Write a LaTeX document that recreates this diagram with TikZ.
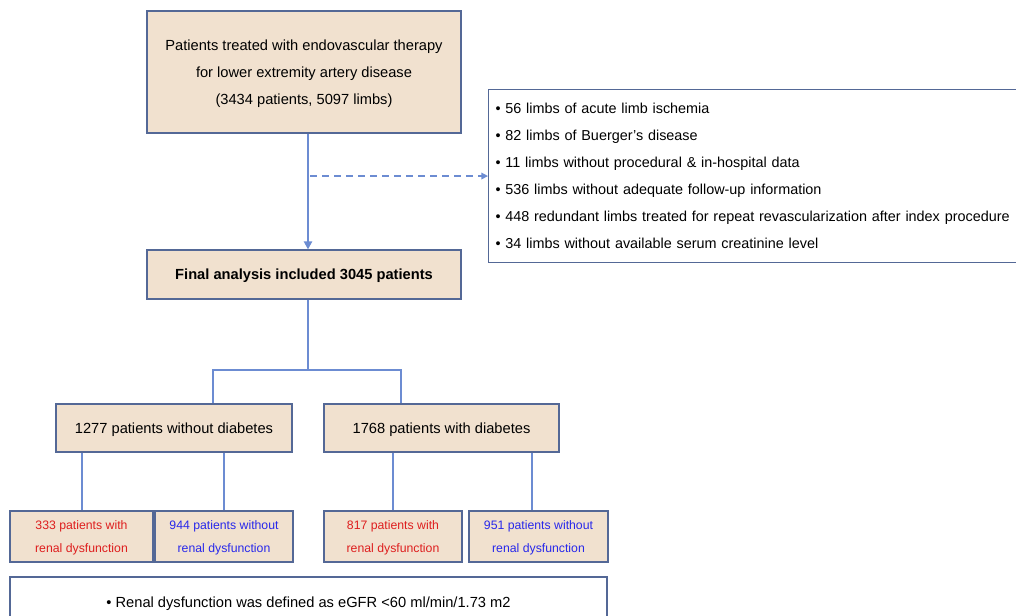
\documentclass[tikz,border=0pt]{standalone}
\usepackage{fontspec}
\setmainfont{Liberation Sans}
\usetikzlibrary{arrows.meta}

\definecolor{boxfill}{RGB}{241,225,207}
\definecolor{boxline}{RGB}{84,104,150}
\definecolor{linkblue}{RGB}{108,140,210}
\definecolor{rdred}{RGB}{222,30,30}
\definecolor{nrdblue}{RGB}{40,40,235}

\tikzset{
  box/.style={draw=boxline, fill=boxfill, line width=0.8pt, rectangle, inner sep=0pt, align=center,
    text depth=0pt, font=\fontsize{11}{20.25}\selectfont},
  smallbox/.style={box, font=\fontsize{9.2}{17}\selectfont},
  notebox/.style={draw=boxline, line width=0.8pt, rectangle, inner sep=0pt, align=center,
    font=\fontsize{11}{20.25}\selectfont},
  link/.style={draw=linkblue, line width=1.5pt},
  linkarr/.style={link, -{Triangle[length=6pt,width=6pt]}},
  dasharr/.style={draw=linkblue, line width=1pt, dash pattern=on 5pt off 4pt, -{Triangle[length=5pt,width=5pt]}}
}

\begin{document}
\begin{tikzpicture}[x=0.75pt,y=0.75pt,yscale=-1]
\useasboundingbox (0,0) rectangle (1016,616);

%Shape: Rectangle [top]
\node [box, minimum width=314*0.75pt, minimum height=122*0.75pt] (top) at (304,72)
  {Patients treated with endovascular therapy\\ for lower extremity artery disease\\ (3434 patients, 5097 limbs)};
%Shape: Rectangle [excluded]
\node [notebox, anchor=north west, minimum width=542*0.75pt, minimum height=173*0.75pt, align=left,
  text width=528*0.75pt, font=\fontsize{10.8}{20.25}\selectfont] (excl) at (488,89)
  {• 56 limbs of acute limb ischemia\\
   • 82 limbs of Buerger’s disease\\
   • 11 limbs without procedural \& in-hospital data\\
   • 536 limbs without adequate follow-up information\\
   • 448 redundant limbs treated for repeat revascularization after index procedure\\
   • 34 limbs without available serum creatinine level};
%Shape: Rectangle [final]
\node [box, minimum width=314*0.75pt, minimum height=49*0.75pt, font=\fontsize{11}{20.25}\selectfont\bfseries] (final) at (304,274.5)
  {Final analysis included 3045 patients};
%Shape: Rectangle [diabetes groups]
\node [box, minimum width=236*0.75pt, minimum height=48*0.75pt] (nodm) at (174,428) {1277 patients without diabetes};
\node [box, minimum width=235*0.75pt, minimum height=48*0.75pt] (dm) at (441.5,428) {1768 patients with diabetes};
%Shape: Rectangle [renal groups]
\node [smallbox, text=rdred, minimum width=143*0.75pt, minimum height=51*0.75pt] (nodmrd) at (81.5,536.5) {333 patients with\\ renal dysfunction};
\node [smallbox, text=nrdblue, minimum width=138*0.75pt, minimum height=51*0.75pt] (nodmnrd) at (224,536.5) {944 patients without\\ renal dysfunction};
\node [smallbox, text=rdred, minimum width=138*0.75pt, minimum height=51*0.75pt] (dmrd) at (393,536.5) {817 patients with\\ renal dysfunction};
\node [smallbox, text=nrdblue, minimum width=139*0.75pt, minimum height=51*0.75pt] (dmnrd) at (538.5,536.5) {951 patients without\\ renal dysfunction};
%Shape: Rectangle [note]
\node [notebox, text depth=0pt, minimum width=597*0.75pt, minimum height=50*0.75pt] (note) at (308.5,602)
  {• Renal dysfunction was defined as eGFR <60 ml/min/1.73 m2};

%Straight Lines [flow]
\draw [linkarr] ([xshift=3pt]top.south) -- ([xshift=3pt]final.north);
\draw [dasharr] ([xshift=4.5pt]top.south |- excl.west) -- (excl.west);
%Straight Lines [split]
\coordinate (brl) at (213,370);
\coordinate (brr) at (401,370);
\draw [link] ([xshift=3pt]final.south) -- ([xshift=3pt]final.south |- brl);
\draw [link] ([xshift=-0.75pt]brl) -- ([xshift=0.75pt]brr);
\draw [link] (brl) -- (brl |- nodm.north);
\draw [link] (brr) -- (brr |- dm.north);
%Straight Lines [renal]
\draw [link] (nodmrd.north |- nodm.south) -- (nodmrd.north);
\draw [link] (nodmnrd.north |- nodm.south) -- (nodmnrd.north);
\draw [link] (dmrd.north |- dm.south) -- (dmrd.north);
\draw [link] ([xshift=-5pt]dmnrd.north |- dm.south) -- ([xshift=-5pt]dmnrd.north);

\end{tikzpicture}
\end{document}
